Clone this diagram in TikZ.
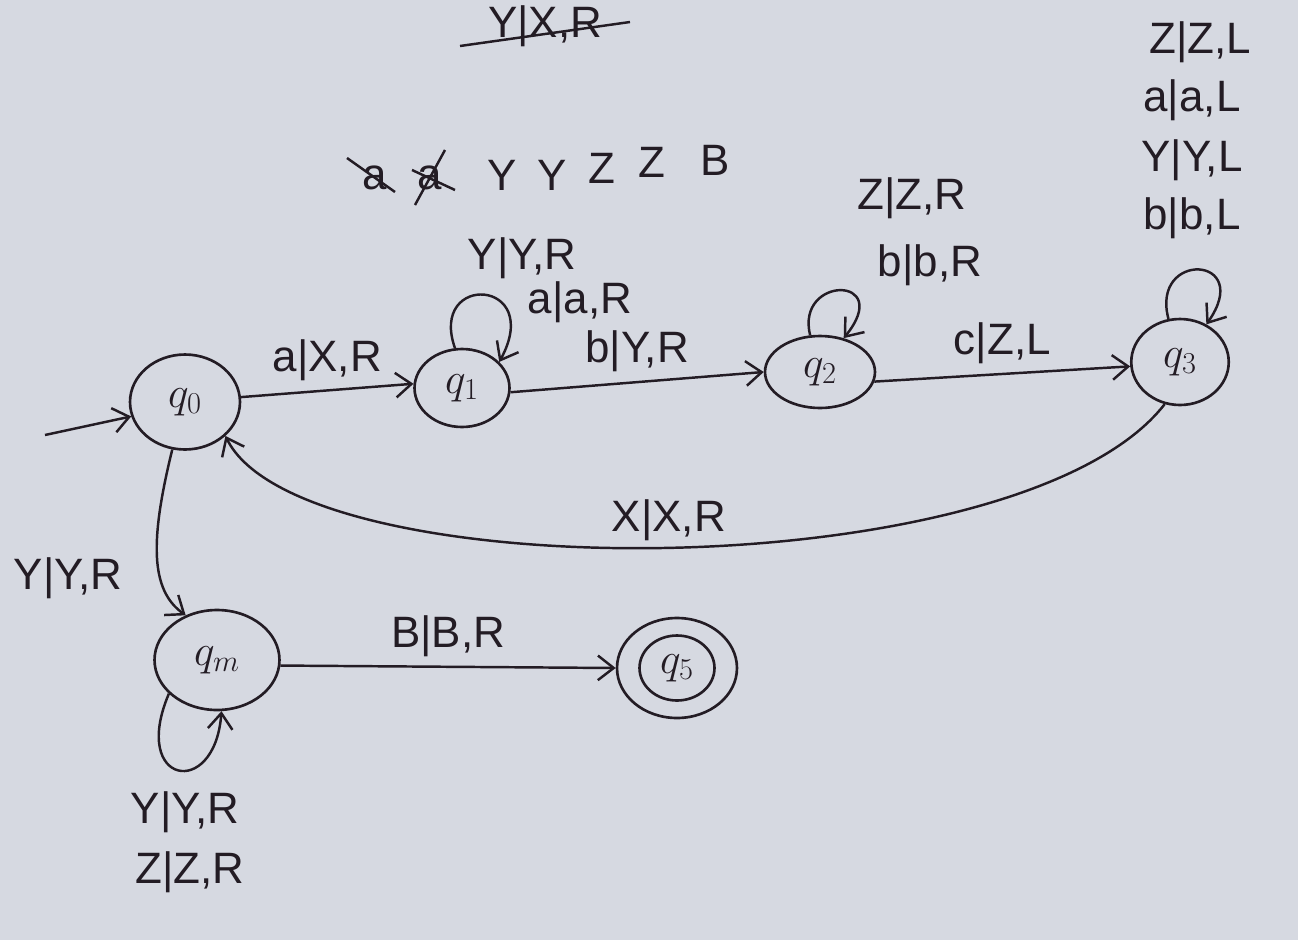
\documentclass[tikz,border=0pt]{standalone}
\usepackage{fontspec}
\setmainfont{Liberation Sans}
\usetikzlibrary{shapes.geometric,arrows.meta}
\definecolor{paper}{HTML}{D6D9E1}
\definecolor{ink}{HTML}{231C24}
\begin{document}
\begin{tikzpicture}[x=0.02cm,y=-0.02cm,
  state/.style={ellipse,draw=ink,line width=1.5pt,inner sep=0pt,text=ink,font=\fontsize{24}{28}\selectfont},
  lbl/.style={text=ink,font=\fontsize{25}{30}\selectfont,inner sep=1pt},
  edge/.style={draw=ink,line width=1.4pt,-{Straight Barb[length=9pt,width=14pt]}}]
\fill[paper] (0,0) rectangle (1298,940);
\useasboundingbox (0,0) rectangle (1298,940);

% states
\node[state,minimum width=2.2cm,minimum height=1.9cm] (q0) at (185,402) {$q_0$};
\node[state,minimum width=1.9cm,minimum height=1.56cm] (q1) at (462,388) {$q_1$};
\node[state,minimum width=2.2cm,minimum height=1.44cm] (q2) at (820,372) {$q_2$};
\node[state,minimum width=1.95cm,minimum height=1.72cm] (q3) at (1180,362) {$q_3$};
\node[state,minimum width=2.5cm,minimum height=2.0cm] (qm) at (217,660) {$q_m$};
\node[state,minimum width=2.4cm,minimum height=2.0cm] (q5) at (677,668) {};
\node[state,minimum width=1.5cm,minimum height=1.3cm] (q5i) at (q5) {$q_5$};

% start arrow
\coordinate (start) at (45,435);
\draw[edge] (start) -- (q0.195);

% transitions
\draw[edge] (q0.5) -- node[lbl,above=4pt] {a|X,R} (q1.175);
\draw[edge] (q1.355) -- node[lbl,above=4pt] {b|Y,R} (q2.180);
\draw[edge] (q2.350) -- node[lbl,above=4pt] {c|Z,L} (q3.185);
\draw[edge] (q3.250) .. controls (1020,590) and (300,590) .. node[lbl,above=2pt,pos=0.5] {X|X,R} (q0.320);
\draw[edge] (q0.255) .. controls (150,540) and (150,590) .. (qm.125);
\draw[edge] (qm.355) -- node[lbl,above=4pt] {B|B,R} (q5.180);

% self loops
\draw[edge] (q1.100) .. controls (428,272) and (545,278) .. (q1.35);
\draw[edge] (q2.105) .. controls (795,275) and (895,275) .. (q2.55);
\draw[edge] (q3.105) .. controls (1150,250) and (1255,255) .. (q3.55);
\draw[edge] (qm.215) .. controls (130,785) and (215,800) .. (qm.275);

% loop labels
\node[lbl] (l1a) at (522,258) {Y|Y,R};
\node[lbl] (l1b) at (580,302) {a|a,R};
\node[lbl] (l2a) at (912,198) {Z|Z,R};
\node[lbl] (l2b) at (930,265) {b|b,R};
\node[lbl] (l3a) at (1200,42) {Z|Z,L};
\node[lbl] (l3b) at (1192,100) {a|a,L};
\node[lbl] (l3c) at (1192,160) {Y|Y,L};
\node[lbl] (l3d) at (1192,218) {b|b,L};
\node[lbl] (l0m) at (68,578) {Y|Y,R};
\node[lbl] (lma) at (185,812) {Y|Y,R};
\node[lbl] (lmb) at (190,872) {Z|Z,R};

% tape
\node[lbl] (t1) at (375,178) {a};
\node[lbl] (t2) at (430,178) {a};
\node[lbl] (t3) at (502,175) {Y};
\node[lbl] (t4) at (552,175) {Y};
\node[lbl] (t5) at (602,168) {Z};
\node[lbl] (t6) at (652,162) {Z};
\node[lbl] (t7) at (715,160) {B};
\draw[ink,line width=1.4pt] (347,158) -- (395,192);
\draw[ink,line width=1.4pt] (445,150) -- (415,205);
\draw[ink,line width=1.4pt] (412,170) -- (455,190);

% top label
\node[lbl] (top) at (545,26) {Y|X,R};
\draw[ink,line width=1.4pt] (460,46) -- (630,22);
\end{tikzpicture}
\end{document}
